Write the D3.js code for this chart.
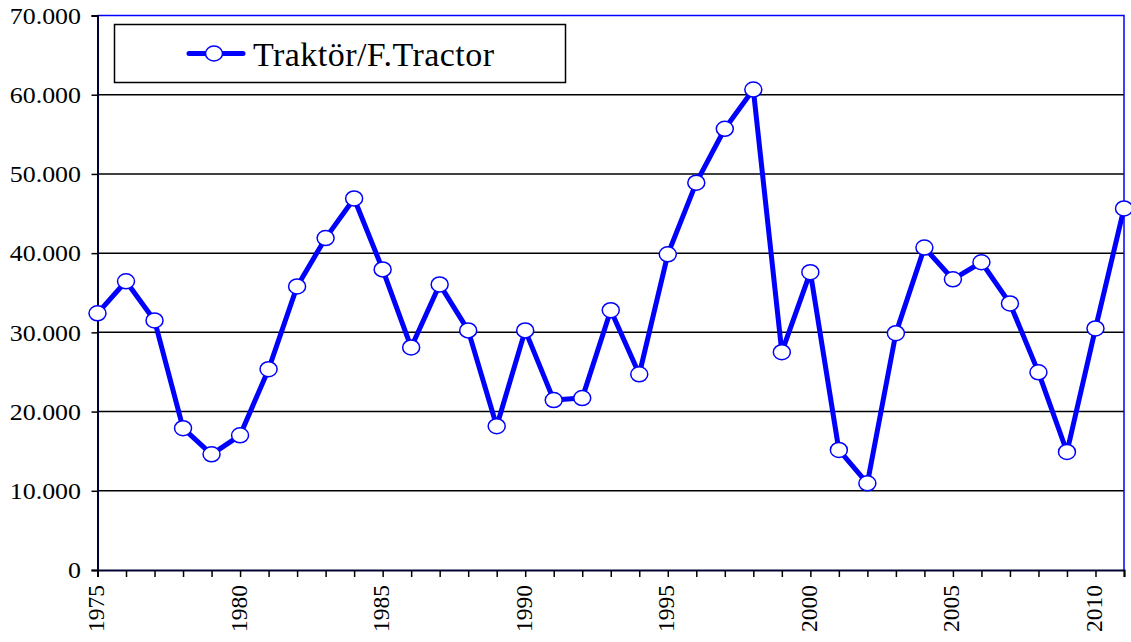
<!DOCTYPE html>
<html>
<head>
<meta charset="utf-8">
<script src="https://cdnjs.cloudflare.com/ajax/libs/d3/7.8.5/d3.min.js"></script>
<style>
  body { margin: 0; background: #fff; }
  svg text { font-family: "Liberation Serif", "Times New Roman", Times, serif !important; }
</style>
</head>
<body>
<div id="chart"></div>
<script>
const years = d3.range(1975, 2012);
const tractors = [
  32400, 36450, 31500, 17900, 14600, 17000, 25350, 35800, 41900, 46900,
  37950, 28100, 36050, 30250, 18150, 30250, 21450, 21700, 32800, 24700,
  39850, 48900, 55700, 60650, 27500, 37600, 15150, 10950, 29900, 40700,
  36700, 38850, 33650, 24950, 14900, 30500, 45650
];
const yTicks = [0, 10000, 20000, 30000, 40000, 50000, 60000, 70000];
const xLabelYears = [1975, 1980, 1985, 1990, 1995, 2000, 2005, 2010];
const seriesName = "Traktör/F.Tractor";

const width = 1131, height = 642;
const margin = { left: 97.5, right: 7, top: 15.5, bottom: 72 };
const blue = "#0000ff";

const svg = d3.select("#chart").append("svg")
  .attr("width", width)
  .attr("height", height);

const x = d3.scaleLinear()
  .domain([1975, 2011])
  .range([margin.left, width - margin.right]);
const y = d3.scaleLinear()
  .domain([0, 70000])
  .range([height - margin.bottom, margin.top]);

const fmt = v => v === 0 ? "0" : d3.format(",")(v).replace(/,/g, ".");

// gridlines
svg.append("g")
  .selectAll("line")
  .data(yTicks.filter(v => v > 0 && v < 70000))
  .join("line")
  .attr("x1", x(1975)).attr("x2", x(2011))
  .attr("y1", d => y(d)).attr("y2", d => y(d))
  .attr("stroke", "#000").attr("stroke-width", 1.5);

// top and right frame
svg.append("path")
  .attr("d", `M${x(1975)},${y(70000)}H${x(2011)}V${y(0)}`)
  .attr("fill", "none")
  .attr("stroke", blue)
  .attr("stroke-width", 1.5);

// y axis
const yAxis = svg.append("g")
  .attr("transform", `translate(${x(1975)},0)`)
  .call(d3.axisLeft(y).tickValues(yTicks).tickFormat(fmt).tickSize(6).tickPadding(10));
yAxis.select(".domain").attr("stroke", "#000033").attr("stroke-width", 2);
yAxis.selectAll(".tick line").attr("stroke", "#000").attr("stroke-width", 1.5);
yAxis.selectAll("text")
  .style("font-size", "24px")
  .attr("fill", "#000")
  .attr("x", -16.5 / 1.08)
  .attr("transform", "scale(1.08,1)");

// x axis
const xAxis = svg.append("g")
  .attr("transform", `translate(0,${y(0)})`)
  .call(d3.axisBottom(x).tickValues(years).tickSize(7).tickFormat(""));
xAxis.select(".domain").attr("stroke", "#000033").attr("stroke-width", 2);
xAxis.selectAll(".tick line").attr("stroke", "#000").attr("stroke-width", 1.5);

svg.append("g")
  .selectAll("text")
  .data(xLabelYears)
  .join("text")
  .attr("transform", d => `translate(${x(d) + 6.5},${y(0) + 15}) rotate(-90)`)
  .attr("text-anchor", "end")
  .style("font-size", "23.5px")
  .text(d => d);

// line
const pts = years.map((yr, i) => ({ yr, v: tractors[i] }));
svg.append("path")
  .datum(pts)
  .attr("fill", "none")
  .attr("stroke", blue)
  .attr("stroke-width", 5)
  .attr("stroke-linejoin", "round")
  .attr("d", d3.line().x(d => x(d.yr)).y(d => y(d.v)));

svg.append("g")
  .selectAll("ellipse")
  .data(pts)
  .join("ellipse")
  .attr("cx", d => x(d.yr))
  .attr("cy", d => y(d.v))
  .attr("rx", 8.5).attr("ry", 7.5)
  .attr("fill", "#fff")
  .attr("stroke", blue)
  .attr("stroke-width", 1.5);

// legend
const lg = svg.append("g");
lg.append("rect")
  .attr("x", 114.5).attr("y", 24.5).attr("width", 451).attr("height", 58)
  .attr("fill", "#fff").attr("stroke", "#000").attr("stroke-width", 1.5);
lg.append("line")
  .attr("x1", 189).attr("x2", 243).attr("y1", 53.5).attr("y2", 53.5)
  .attr("stroke", blue).attr("stroke-width", 5).attr("stroke-linecap", "round");
lg.append("ellipse")
  .attr("cx", 214).attr("cy", 53.5).attr("rx", 8.5).attr("ry", 7.5)
  .attr("fill", "#fff").attr("stroke", blue).attr("stroke-width", 1.5);
lg.append("text")
  .attr("x", 253).attr("y", 65.5)
  .style("font-size", "34px")
  .attr("textLength", 241)
  .attr("lengthAdjust", "spacing")
  .text(seriesName);
</script>
</body>
</html>
